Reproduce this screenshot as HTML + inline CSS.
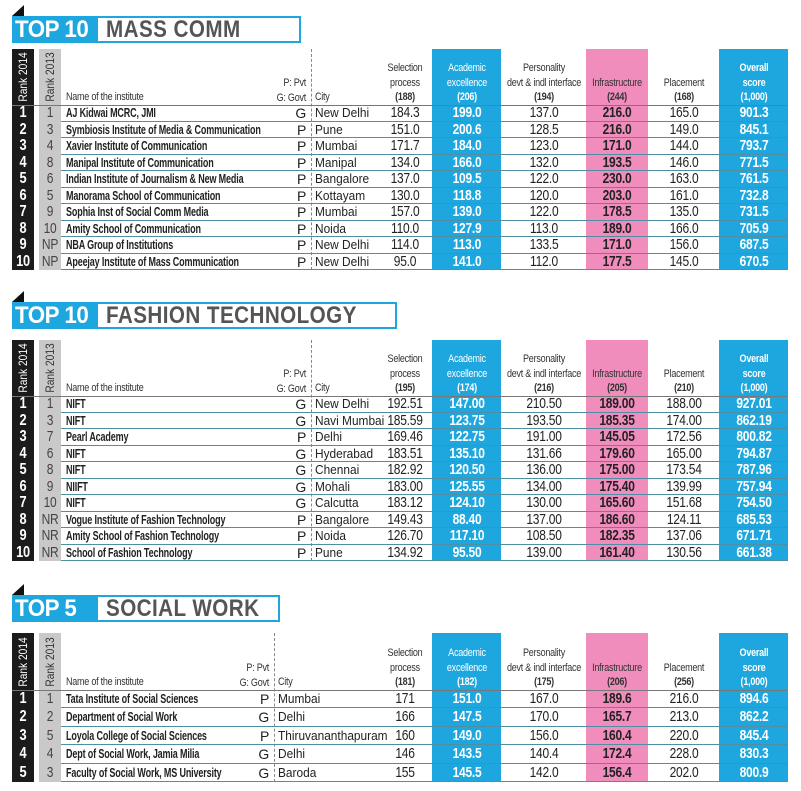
<!DOCTYPE html>
<html><head><meta charset="utf-8">
<style>
body{margin:0;background:#fff;width:801px;height:791px;position:relative;overflow:hidden;font-family:"Liberation Sans",sans-serif;}
.a{position:absolute;}
.t{position:absolute;white-space:nowrap;}
.hdr{font-size:11px;color:#333;text-align:center;line-height:14.5px;letter-spacing:-0.3px;transform:scaleX(0.82);}
.cell{font-size:15px;letter-spacing:-0.3px;color:#222;transform:scaleX(0.8);}
</style></head>
<body>
<div id="root"></div>
<script>
const colHeadsMass=["(188)","(206)","(194)","(244)","(168)","(1,000)"];
const colHeadsFash=["(195)","(174)","(216)","(205)","(210)","(1,000)"];
const colHeadsSoc=["(181)","(182)","(175)","(206)","(256)","(1,000)"];
const massR13=["1","3","4","8","6","5","9","10","NP","NP"];
const massNames=["AJ Kidwai MCRC, JMI","Symbiosis Institute of Media & Communication","Xavier Institute of Communication","Manipal Institute of Communication","Indian Institute of Journalism & New Media","Manorama School of Communication","Sophia Inst of Social Comm Media","Amity School of Communication","NBA Group of Institutions","Apeejay Institute of Mass Communication"];
const massPG=["G","P","P","P","P","P","P","P","P","P"];
const massCity=["New Delhi","Pune","Mumbai","Manipal","Bangalore","Kottayam","Mumbai","Noida","New Delhi","New Delhi"];
const massSel=["184.3","151.0","171.7","134.0","137.0","130.0","157.0","110.0","114.0","95.0"];
const massAca=["199.0","200.6","184.0","166.0","109.5","118.8","139.0","127.9","113.0","141.0"];
const massPer=["137.0","128.5","123.0","132.0","122.0","120.0","122.0","113.0","133.5","112.0"];
const massInf=["216.0","216.0","171.0","193.5","230.0","203.0","178.5","189.0","171.0","177.5"];
const massPla=["165.0","149.0","144.0","146.0","163.0","161.0","135.0","166.0","156.0","145.0"];
const massOve=["901.3","845.1","793.7","771.5","761.5","732.8","731.5","705.9","687.5","670.5"];
const fashR13=["1","3","7","6","8","9","10","NR","NR","NR"];
const fashNames=["NIFT","NIFT","Pearl Academy","NIFT","NIFT","NIIFT","NIFT","Vogue Institute of Fashion Technology","Amity School of Fashion Technology","School of Fashion Technology"];
const fashPG=["G","G","P","G","G","G","G","P","P","P"];
const fashCity=["New Delhi","Navi Mumbai","Delhi","Hyderabad","Chennai","Mohali","Calcutta","Bangalore","Noida","Pune"];
const fashSel=["192.51","185.59","169.46","183.51","182.92","183.00","183.12","149.43","126.70","134.92"];
const fashAca=["147.00","123.75","122.75","135.10","120.50","125.55","124.10","88.40","117.10","95.50"];
const fashPer=["210.50","193.50","191.00","131.66","136.00","134.00","130.00","137.00","108.50","139.00"];
const fashInf=["189.00","185.35","145.05","179.60","175.00","175.40","165.60","186.60","182.35","161.40"];
const fashPla=["188.00","174.00","172.56","165.00","173.54","139.99","151.68","124.11","137.06","130.56"];
const fashOve=["927.01","862.19","800.82","794.87","787.96","757.94","754.50","685.53","671.71","661.38"];
const socR13=["1","2","5","4","3"];
const socNames=["Tata Institute of Social Sciences","Department of Social Work","Loyola College of Social Sciences","Dept of Social Work, Jamia Milia","Faculty of Social Work, MS University"];
const socPG=["P","G","P","G","G"];
const socCity=["Mumbai","Delhi","Thiruvananthapuram","Delhi","Baroda"];
const socSel=["171","166","160","146","155"];
const socAca=["151.0","147.5","149.0","143.5","145.5"];
const socPer=["167.0","170.0","156.0","140.4","142.0"];
const socInf=["189.6","165.7","160.4","172.4","156.4"];
const socPla=["216.0","213.0","220.0","228.0","202.0"];
const socOve=["894.6","862.2","845.4","830.3","800.9"];

const root=document.getElementById('root');
const BLUE="#1ea6de",PINK="#f18dbd";
function mk(tag,cls,name,css,txt){const e=document.createElement(tag);e.className=cls;


e.style.cssText=css;if(txt!==undefined)e.textContent=txt;root.appendChild(e);return e;}

function title(y,left,right,w){
 mk('div','a','title-corner',`left:12px;top:${y-11}px;width:0;height:0;border-left:12px solid transparent;border-bottom:11px solid #111;`);
 mk('div','a','title-box',`left:12px;top:${y}px;width:${w-12}px;height:23px;border:2px solid ${BLUE};background:#fff;`);
 mk('div','t','title-top',`left:12px;top:${y}px;width:86px;height:27px;background:${BLUE};`);
 mk('div','t','title-top-text',`left:15px;top:${y}px;color:#fff;font:bold 24px/28px "Liberation Sans",sans-serif;letter-spacing:-0.5px;transform:scaleX(0.93);transform-origin:left;`,left);
 mk('div','t','title-category',`left:106px;top:${y}px;color:#555;font:bold 24px/28px "Liberation Sans",sans-serif;letter-spacing:0.5px;transform:scaleX(0.86);transform-origin:left;`,right);
}
const cx=[405,467,544,617,684,754];
function section(hTop,rTop,rh,n,sep,heads,r13,names,pg,city,cols){
 const bottom=rTop+rh*n;
 mk('div','a','academic-column',`left:432px;top:${hTop}px;width:69px;height:${bottom-hTop}px;background:${BLUE};`);
 mk('div','a','infrastructure-column',`left:586px;top:${hTop}px;width:62px;height:${bottom-hTop}px;background:${PINK};`);
 mk('div','a','overall-column',`left:719px;top:${hTop}px;width:69px;height:${bottom-hTop}px;background:${BLUE};`);
 mk('div','a','rank2014-column',`left:12px;top:${hTop}px;width:22px;height:${bottom-hTop}px;background:#1b1b1b;`);
 mk('div','a','rank2013-column',`left:39px;top:${hTop}px;width:22px;height:${bottom-hTop}px;background:#c9c9c9;`);
 mk('div','a','city-separator',`left:${sep}px;top:${hTop}px;width:0;height:${bottom-hTop}px;border-left:1px dashed #888;`);
 const hb=rTop;
 const mid=(hTop+hb)/2;
 mk('div','t','rank2014-header',`left:${23-30}px;top:${mid-7}px;width:60px;height:14px;line-height:14px;font-size:12px;color:#fff;text-align:center;transform:rotate(-90deg) scaleX(0.85);`,'Rank 2014');
 mk('div','t','rank2013-header',`left:${50-30}px;top:${mid-7}px;width:60px;height:14px;line-height:14px;font-size:12px;color:#333;text-align:center;transform:rotate(-90deg) scaleX(0.85);`,'Rank 2013');
 mk('div','t hdr','name-header',`left:66px;top:${hb-15}px;transform-origin:left;`,'Name of the institute');
 const p=mk('div','t hdr','pg-header',`left:${sep-60}px;top:${hb-29}px;width:55px;text-align:right;transform-origin:right;`,'P: Pvt\nG: Govt');p.style.whiteSpace='pre';
 mk('div','t hdr','city-header',`left:${sep+4}px;top:${hb-15}px;transform-origin:left;`,'City');
 const labels=[["Selection","process"],["Academic","excellence"],["Personality","devt & indl interface"],["","Infrastructure"],["","Placement"],["Overall","score"]];
 const hn=['selection-header','academic-header','personality-header','infrastructure-header','placement-header','overall-header'];
 for(let c=0;c<6;c++){
  const col=(c==1||c==5)?'#fff':'#333';
  const e=mk('div','t hdr',hn[c],`left:${cx[c]-50}px;top:${hb-44}px;width:100px;color:${col};${c==5?'font-weight:bold;':''}`);
  e.innerHTML=labels[c][0]+'<br>'+labels[c][1]+'<br><b>'+heads[c]+'</b>';
 }
 mk('div','a','header-rule',`left:12px;top:${hb}px;width:776px;height:1px;background:#777;`);
 const nm=['selection-value','academic-value','personality-value','infrastructure-value','placement-value','overall-value'];
 for(let i=0;i<n;i++){
  const y=rTop+i*rh;const lh=rh;
  mk('div','t cell','rank2014',`left:12px;top:${y}px;width:22px;text-align:center;color:#fff;font-weight:bold;font-size:16px;line-height:${lh}px;`,String(i+1));
  mk('div','t cell','rank2013',`left:39px;top:${y}px;width:22px;text-align:center;color:#444;line-height:${lh}px;`,r13[i]);
  mk('div','t','institute-name',`left:66px;top:${y}px;font-size:12.5px;letter-spacing:-0.2px;font-weight:bold;color:#222;line-height:${lh}px;transform:scaleX(0.72);transform-origin:left;`,names[i]);
  mk('div','t cell','ownership',`left:${sep-30}px;top:${y}px;width:25px;text-align:right;font-size:14px;line-height:${lh}px;transform:none;`,pg[i]);
  mk('div','t','city',`left:${sep+4}px;top:${y}px;font-size:12.5px;color:#222;line-height:${lh}px;transform:scaleX(0.95);transform-origin:left;`,city[i]);
  for(let c=0;c<6;c++){
   const st=(c==1||c==5)?'color:#fff;font-weight:bold;':(c==3?'color:#222;font-weight:bold;':'');
   mk('div','t cell',nm[c],`left:${cx[c]-40}px;top:${y}px;width:80px;text-align:center;line-height:${lh}px;${st}`,cols[c][i]);
  }
  mk('div','a','row-rule',`left:61px;top:${y+rh-1}px;width:727px;height:1px;background:#4f8ea5;`);
 }
}
title(16,"TOP 10","MASS COMM",297);
section(49,105,16.5,10,311,colHeadsMass,massR13,massNames,massPG,massCity,[massSel,massAca,massPer,massInf,massPla,massOve]);
title(302,"TOP 10","FASHION TECHNOLOGY",393);
section(340,396,16.5,10,311,colHeadsFash,fashR13,fashNames,fashPG,fashCity,[fashSel,fashAca,fashPer,fashInf,fashPla,fashOve]);
title(595,"TOP 5","SOCIAL WORK",276);
section(633,690,18.4,5,274,colHeadsSoc,socR13,socNames,socPG,socCity,[socSel,socAca,socPer,socInf,socPla,socOve]);
</script>
</body></html>
